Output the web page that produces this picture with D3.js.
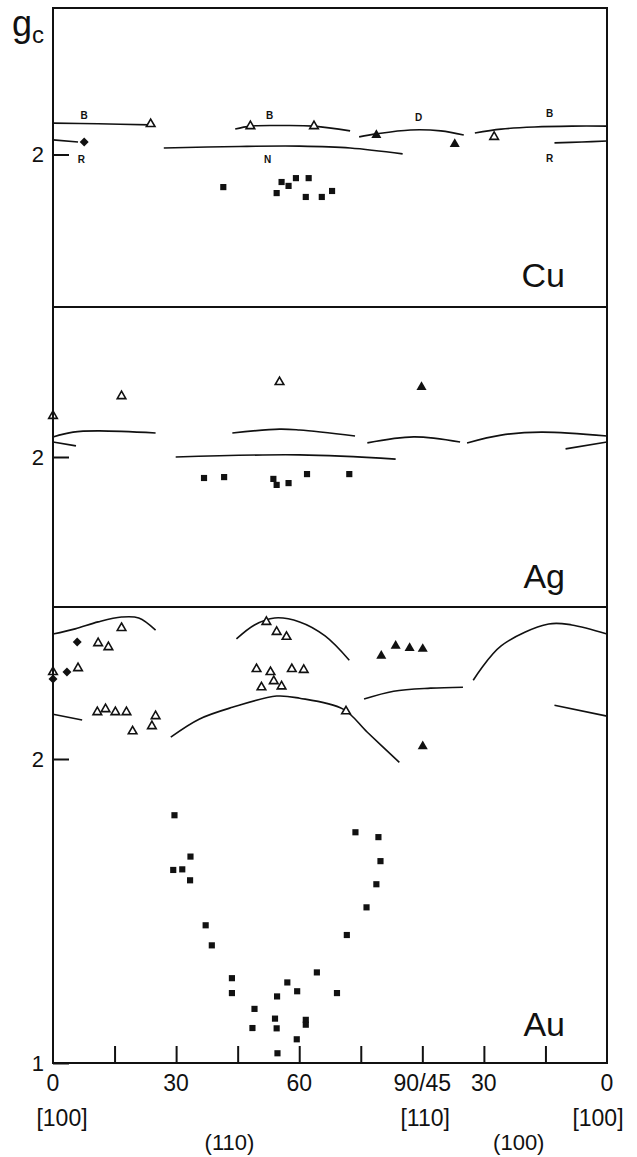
<!DOCTYPE html>
<html>
<head>
<meta charset="utf-8">
<script src="https://cdn.jsdelivr.net/npm/d3@7"></script>
<style>
  body { margin: 0; background: #fff; }
  svg { display: block; }
  .border { fill: none; stroke: #111; stroke-width: 2; }
  .curve { fill: none; stroke: #111; stroke-width: 1.6; }
  .tick line { stroke: #111; stroke-width: 2; }
  text { font-family: "Liberation Sans", Arial, sans-serif; fill: #111; }
</style>
</head>
<body>
<div id="chart"></div>
<script>
// position along rotation: 0-90 in (110) plane, then 45 -> 0 in (100) plane (90..135)
var xTickMarks = [15, 30, 45, 60, 75, 90, 105, 120];
var xLabelPos = [0, 30, 60, 90, 105, 135];
var xLabels = ["0", "30", "60", "90/45", "30", "0"];
var dirLabels = ["[100]", "[110]", "[100]"];
var dirPos = [2.2, 90.7, 132.8];
var planeLabels = ["(110)", "(100)"];
var planePos = [43, 113.5];

// ---- Cu ----
var cuSquares = [[41.5,1.891],[54.5,1.871],[55.7,1.908],[57.4,1.895],[59.2,1.921],[62.3,1.921],[61.6,1.858],[65.5,1.858],[68.0,1.878]];
var cuOpenTri = [[23.8,2.102],[48.1,2.095],[63.6,2.095],[107.5,2.059]];
var cuFilledTri = [[78.8,2.065],[97.9,2.035]];
var cuDiamonds = [[7.6,2.042]];
var cuCurves = [
  [[0,2.105],[11,2.103],[23.8,2.099]],
  [[0,2.049],[6.1,2.042]],
  [[44.4,2.085],[48.1,2.095],[55.2,2.097],[63.6,2.095],[72.4,2.079]],
  [[27.0,2.022],[45.4,2.027],[60.1,2.028],[72.4,2.022],[85.2,2.002]],
  [[74.6,2.059],[78.8,2.069],[87.1,2.082],[94.5,2.079],[100.1,2.065]],
  [[102.8,2.072],[109.2,2.085],[117.3,2.092],[126.4,2.095],[135,2.095]],
  [[122.2,2.039],[128.9,2.042],[135,2.045]]
];
var cuCurveNames = ["B", "R", "B", "N", "D", "B", "R"];
var cuNameAt = [[7.6,2.132],[6.9,1.982],[52.8,2.132],[52.3,1.982],[89.1,2.125],[121,2.139],[121,1.988]];

// ---- Ag ----
var agSquares = [[36.8,1.930],[41.7,1.933],[53.7,1.927],[54.5,1.907],[57.4,1.913],[61.9,1.943],[72.2,1.943]];
var agOpenTri = [[0,2.137],[16.7,2.203],[55.2,2.250]];
var agFilledTri = [[89.8,2.233]];
var agDiamonds = [];
var agCurves = [
  [[0,2.067],[4.9,2.083],[11,2.087],[25,2.080]],
  [[0,2.050],[5.6,2.037]],
  [[43.7,2.080],[55.2,2.093],[60.1,2.090],[73.6,2.070]],
  [[29.9,2.000],[60.1,2.007],[83.5,1.993]],
  [[76.6,2.047],[87.9,2.067],[99.2,2.050]],
  [[100.9,2.047],[109.2,2.073],[119,2.083],[135,2.070]],
  [[124.9,2.027],[135,2.050]]
];

// ---- Au ----
var auSquares = [
  [29.6,1.815],[33.5,1.679],[29.3,1.635],[31.5,1.637],[33.4,1.601],[37.2,1.453],[38.7,1.387],
  [43.6,1.279],[43.6,1.230],[49.1,1.178],[48.6,1.115],[54.1,1.146],[54.5,1.114],[54.6,1.219],
  [57.1,1.265],[59.5,1.236],[61.6,1.142],[61.6,1.126],[59.4,1.078],[54.7,1.032],[64.3,1.298],
  [69.2,1.230],[71.6,1.421],[73.7,1.759],[79.3,1.743],[79.8,1.664],[78.8,1.588],[76.4,1.512]
];
var auOpenTri = [
  [16.7,2.431],[11.0,2.381],[13.5,2.368],[6.1,2.299],[0,2.286],
  [10.8,2.154],[12.8,2.164],[15.2,2.154],[17.9,2.154],[19.4,2.091],[24.1,2.108],[25.0,2.141],
  [52.0,2.451],[54.5,2.418],[56.9,2.402],[49.6,2.296],[53.0,2.286],[58.2,2.296],[61.1,2.293],
  [53.8,2.256],[50.8,2.236],[55.7,2.239],[71.4,2.157]
];
var auFilledTri = [[80.0,2.339],[83.5,2.372],[86.9,2.365],[90.1,2.362],[90.1,2.042]];
var auDiamonds = [[5.9,2.385],[3.4,2.286],[0,2.263]];
var auCurves = [
  [[0,2.411],[5.4,2.428],[11,2.451],[16.7,2.467],[20.9,2.464],[25,2.424]],
  [[44.7,2.395],[49.1,2.441],[54,2.464],[60.1,2.451],[66.3,2.405],[72.2,2.325]],
  [[0,2.147],[7.1,2.128]],
  [[28.7,2.072],[35.6,2.131],[43.7,2.170],[54.5,2.207],[60.1,2.200],[70.7,2.164],[76.6,2.088],[84.4,1.989]],
  [[75.8,2.197],[83.0,2.223],[92,2.233],[99.9,2.236]],
  [[102.4,2.259],[109.2,2.372],[120.8,2.444],[126.4,2.441],[135,2.411]],
  [[122.2,2.177],[135,2.141]]
];

var panels = [
  { name: "Cu", domain: [1.49, 2.49], top: 8, bottom: 307, ticks: [2], labelY: 287,
    squares: cuSquares, open: cuOpenTri, filled: cuFilledTri, diamonds: cuDiamonds, curves: cuCurves },
  { name: "Ag", domain: [1.5, 2.5], top: 307, bottom: 607, ticks: [2], labelY: 588,
    squares: agSquares, open: agOpenTri, filled: agFilledTri, diamonds: agDiamonds, curves: agCurves },
  { name: "Au", domain: [1, 2.5], top: 607, bottom: 1063, ticks: [2, 1], labelY: 1036,
    squares: auSquares, open: auOpenTri, filled: auFilledTri, diamonds: auDiamonds, curves: auCurves }
];

var width = 637, height = 1157;
var left = 53, right = 607;

var svg = d3.select("#chart").append("svg")
  .attr("width", width)
  .attr("height", height);

svg.append("rect").attr("width", width).attr("height", height).attr("fill", "#fff");

var x = d3.scaleLinear().domain([0, 135]).range([left, right]);

var sqSym = d3.symbol().type(d3.symbolSquare).size(38);
var triOpen = d3.symbol().type(d3.symbolTriangle).size(32);
var triFilled = d3.symbol().type(d3.symbolTriangle).size(44);
var diaSym = d3.symbol().type(d3.symbolSquare).size(40);

panels.forEach(function(p) {
  var y = d3.scaleLinear().domain(p.domain).range([p.bottom, p.top]);
  var g = svg.append("g").attr("class", "panel");

  var line = d3.line()
    .x(function(d) { return x(d[0]); })
    .y(function(d) { return y(d[1]); })
    .curve(d3.curveCatmullRom.alpha(0.5));

  // y ticks (inward) with labels
  var yAxis = d3.axisRight(y).tickValues(p.ticks).tickSize(16).tickFormat("");
  g.append("g")
    .attr("transform", "translate(" + left + ",0)")
    .call(yAxis)
    .call(function(s) { s.select(".domain").remove(); });

  g.selectAll("text.ylab")
    .data(p.ticks)
    .enter().append("text")
    .attr("class", "ylab")
    .attr("x", left - 9)
    .attr("y", function(d) { return y(d); })
    .attr("dy", "0.36em")
    .attr("text-anchor", "end")
    .style("font-size", "22px")
    .text(function(d) { return d; });

  g.selectAll("path.curve")
    .data(p.curves)
    .enter().append("path")
    .attr("class", "curve")
    .attr("d", line);

  g.selectAll("path.sq")
    .data(p.squares)
    .enter().append("path")
    .attr("class", "sq")
    .attr("transform", function(d) { return "translate(" + x(d[0]) + "," + y(d[1]) + ")"; })
    .attr("d", sqSym)
    .attr("fill", "#111");

  g.selectAll("path.dia")
    .data(p.diamonds)
    .enter().append("path")
    .attr("class", "dia")
    .attr("transform", function(d) { return "translate(" + x(d[0]) + "," + y(d[1]) + ") rotate(45)"; })
    .attr("d", diaSym)
    .attr("fill", "#111");

  g.selectAll("path.otri")
    .data(p.open)
    .enter().append("path")
    .attr("class", "otri")
    .attr("transform", function(d) { return "translate(" + x(d[0]) + "," + y(d[1]) + ")"; })
    .attr("d", triOpen)
    .attr("fill", "#fff")
    .attr("stroke", "#111")
    .attr("stroke-width", 1.6);

  g.selectAll("path.ftri")
    .data(p.filled)
    .enter().append("path")
    .attr("class", "ftri")
    .attr("transform", function(d) { return "translate(" + x(d[0]) + "," + y(d[1]) + ")"; })
    .attr("d", triFilled)
    .attr("fill", "#111");

  // element name
  g.append("text")
    .attr("x", 565)
    .attr("y", p.labelY)
    .attr("text-anchor", "end")
    .style("font-size", "34px")
    .text(p.name);

  // frame
  g.append("rect")
    .attr("class", "border")
    .attr("x", left)
    .attr("y", p.top)
    .attr("width", right - left)
    .attr("height", p.bottom - p.top);

  if (p.name === "Cu") {
    g.selectAll("text.cname")
      .data(cuCurveNames)
      .enter().append("text")
      .attr("class", "cname")
      .attr("x", function(d, i) { return x(cuNameAt[i][0]); })
      .attr("y", function(d, i) { return y(cuNameAt[i][1]); })
      .attr("dy", "0.36em")
      .attr("text-anchor", "middle")
      .style("font-size", "10px")
      .style("font-weight", "bold")
      .text(function(d) { return d; });
  }

  if (p.name === "Au") {
    // tick marks pointing up into the panel
    g.append("g")
      .attr("transform", "translate(0," + p.bottom + ")")
      .call(d3.axisTop(x).tickValues(xTickMarks).tickSize(17).tickFormat(""))
      .call(function(s) { s.select(".domain").remove(); });

    g.selectAll("text.xlab")
      .data(xLabels)
      .enter().append("text")
      .attr("class", "xlab")
      .attr("x", function(d, i) { return x(xLabelPos[i]); })
      .attr("y", p.bottom + 28)
      .attr("text-anchor", "middle")
      .style("font-size", "23px")
      .text(function(d) { return d; });

    g.selectAll("text.dlab")
      .data(dirLabels)
      .enter().append("text")
      .attr("class", "dlab")
      .attr("x", function(d, i) { return x(dirPos[i]); })
      .attr("y", p.bottom + 63)
      .attr("text-anchor", "middle")
      .style("font-size", "23px")
      .text(function(d) { return d; });

    g.selectAll("text.plab")
      .data(planeLabels)
      .enter().append("text")
      .attr("class", "plab")
      .attr("x", function(d, i) { return x(planePos[i]); })
      .attr("y", p.bottom + 87)
      .attr("text-anchor", "middle")
      .style("font-size", "22px")
      .text(function(d) { return d; });
  }
});

// g_c axis title
var title = svg.append("text").attr("x", 12).attr("y", 36).style("font-size", "36px");
title.append("tspan").text("g");
title.append("tspan").attr("dy", 7).style("font-size", "24px").text("c");
</script>
</body>
</html>
